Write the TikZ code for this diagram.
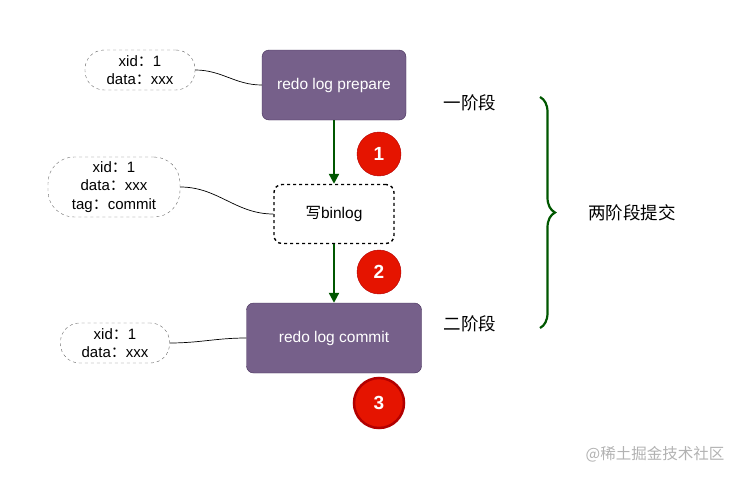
\documentclass[tikz,border=0pt]{standalone}
\usepackage{fontspec}
\setmainfont{Liberation Sans}
\newfontfamily\cjk{Noto Sans CJK SC}
\usetikzlibrary{
  positioning,
  arrows.meta,
  decorations.pathreplacing
}
\definecolor{logpurple}{HTML}{76608A}
\definecolor{logedge}{HTML}{432D57}
\definecolor{stepgreen}{HTML}{005700}
\definecolor{badgered}{HTML}{E51400}
\definecolor{badgeedge}{HTML}{B20000}

\begin{document}
\begin{tikzpicture}[x=1pt, y=-1pt,
    logbox/.style = {shape=rectangle, rounded corners=7pt, draw=logedge,
      fill=logpurple, text=white, font=\fontsize{15.5}{18}\selectfont,
      minimum width=144pt, minimum height=70pt},
    binbox/.style = {shape=rectangle, rounded corners=8pt, draw,
      dashed, line width=1.4pt, font=\fontsize{15.5}{18}\selectfont,
      minimum width=120pt, minimum height=59pt},
    note/.style = {shape=rectangle, draw=black!60, dashed, align=center,
      font=\fontsize{15}{18.5}\selectfont, inner sep=1pt},
    badge/.style = {circle, fill=badgered, draw=badgeedge, text=white,
      font=\bfseries\fontsize{19}{21}\selectfont, minimum size=44pt,
      inner sep=0pt},
    flow/.style = {-{Triangle[width=10pt,length=10pt]}, draw=stepgreen,
      line width=2.2pt},
    link/.style = {draw, line width=0.7pt},
    stage/.style = {font=\cjk\fontsize{17.5}{20}\selectfont}]
  \useasboundingbox (0,0) rectangle (740,479);

  % main steps
  \node[logbox] (prepare) at (334,85) {redo log prepare};
  \node[binbox] (binlog) at (334,214) {{\cjk 写}binlog};
  \node[logbox, minimum width=175pt] (commit) at (334,338) {redo log commit};

  \draw[flow] (prepare) -- (binlog);
  \draw[flow] (binlog) -- (commit);

  % step numbers
  \node[badge] (one) at (379,154) {1};
  \node[badge] (two) at (379,272) {2};
  \node[badge, line width=2.5pt, minimum size=50pt] (three) at (379,403) {3};

  % record contents
  \node[note, rounded corners=19pt, minimum width=110pt, minimum height=40pt]
    (noteA) at (140,70) {xid{\cjk ：}1\\data{\cjk ：}xxx};
  \node[note, rounded corners=26pt, minimum width=132pt, minimum height=60pt]
    (noteB) at (114,187) {xid{\cjk ：}1\\data{\cjk ：}xxx\\tag{\cjk ：}commit};
  \node[note, rounded corners=19pt, minimum width=109pt, minimum height=40pt]
    (noteC) at (115,343) {xid{\cjk ：}1\\data{\cjk ：}xxx};

  \draw[link] (noteA.east) to[out=0, in=180] (prepare.west);
  \draw[link] (noteB.east) to[out=0, in=180] (binlog.west);
  \draw[link] (noteC.east) to[out=0, in=180] (commit.west);

  % phases
  \node[stage] (first) at (470,103) {一阶段};
  \node[stage] (second) at (470,324) {二阶段};
  \coordinate (braceTop) at (540,97);
  \coordinate (braceBot) at (540,328);
  \draw[decorate, decoration={brace, amplitude=15pt}, draw=stepgreen,
    line width=2.2pt] (braceTop) -- (braceBot)
    node[midway, right=44pt, stage] (total) {两阶段提交};

  \node[font=\cjk\fontsize{15.5}{18}\selectfont, text=gray!60] (mark)
    at (655,454) {@稀土掘金技术社区};
\end{tikzpicture}
\end{document}
